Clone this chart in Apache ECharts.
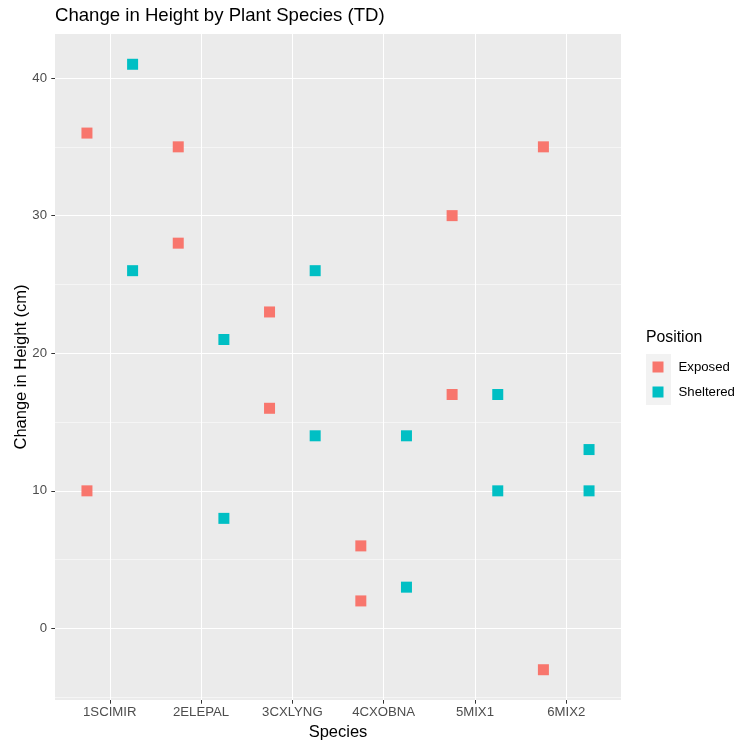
<!DOCTYPE html>
<html>
<head>
<meta charset="utf-8">
<script src="https://cdn.jsdelivr.net/npm/echarts@6/dist/echarts.min.js"></script>
<style>html,body{margin:0;padding:0;background:#fff}#c{width:739px;height:740px}</style>
</head>
<body>
<div id="c"></div>
<script>
const categories = ['1SCIMIR', '2ELEPAL', '3CXLYNG', '4CXOBNA', '5MIX1', '6MIX2'];
const exposedValues = [[36, 10], [35, 28], [23, 16], [6, 2], [30, 17], [35, -3]];
const shelteredValues = [[41, 26], [21, 8], [26, 14], [14, 3], [17, 10], [13, 10]];
const yMajorTicks = [0, 10, 20, 30, 40];
const yMinorTicks = [-5, 5, 15, 25, 35];
const seriesNames = ['Exposed', 'Sheltered'];
const dodge = [-0.25, 0.25];

function toPoints(vals, off) {
  const pts = [];
  vals.forEach((arr, i) => arr.forEach(v => pts.push([i + 1 + off, v])));
  return pts;
}
const xTicks = categories.map((c, i) => i + 1);
const FONT = '"Liberation Sans", Arial, sans-serif';
const chart = echarts.init(document.getElementById('c'), null, {renderer: 'canvas'});
const yMin = -5.2, yMax = 43.2;
chart.setOption({
  backgroundColor: '#ffffff',
  animation: false,
  title: [{
    text: 'Change in Height by Plant Species (TD)',
    left: 55, top: 6, padding: 0,
    textStyle: {fontFamily: FONT, fontSize: 18.6, fontWeight: 'normal', color: '#000'}
  }, {
    text: 'Position',
    left: 646, top: 330,
    padding: 0,
    textStyle: {fontFamily: FONT, fontSize: 15.8, fontWeight: 'normal', color: '#000'}
  }],
  graphic: [{
    type: 'rect', z: 0,
    shape: {x: 646, y: 354, width: 25, height: 51},
    style: {fill: '#f2f2f2'}
  }],
  legend: {
    orient: 'vertical',
    left: 652.5, top: 360, padding: 0,
    itemWidth: 11, itemHeight: 11, itemGap: 11,
    icon: 'rect',
    data: seriesNames,
    textStyle: {fontFamily: FONT, fontSize: 13.2, lineHeight: 14, color: '#000', padding: [0, 0, 0, 10]}
  },
  grid: {left: 55, top: 34, width: 566, height: 666, show: true, backgroundColor: '#ebebeb', borderWidth: 0,
         containLabel: false, outerBoundsMode: 'none'},
  xAxis: {
    type: 'value', min: 0.4, max: 6.6,
    name: 'Species', nameLocation: 'middle', nameGap: 23.5, nameMoveOverlap: false,
    nameTextStyle: {fontFamily: FONT, fontSize: 16.5, color: '#000'},
    axisLine: {show: false, onZero: false},
    axisTick: {show: true, length: 3.7, lineStyle: {color: '#333', width: 1}, customValues: xTicks},
    axisLabel: {
      customValues: xTicks, margin: 6,
      fontFamily: FONT, fontSize: 13.2, color: '#4d4d4d',
      formatter: v => categories[Math.round(v) - 1] || ''
    },
    splitLine: {show: true, lineStyle: {color: '#ffffff', width: 1.07}}
  },
  yAxis: [{
    type: 'value', min: yMin, max: yMax,
    name: 'Change in Height (cm)', nameLocation: 'middle', nameGap: 25, nameRotate: 90, nameMoveOverlap: false,
    nameTextStyle: {fontFamily: FONT, fontSize: 16.5, color: '#000'},
    axisLine: {show: false, onZero: false},
    axisTick: {show: true, length: 3.7, lineStyle: {color: '#333', width: 1}, customValues: yMajorTicks},
    axisLabel: {customValues: yMajorTicks, margin: 8, fontFamily: FONT, fontSize: 13.2, color: '#4d4d4d'},
    splitLine: {show: true, lineStyle: {color: '#ffffff', width: 1.07}},
    z: 1
  }, {
    type: 'value', min: yMin, max: yMax, position: 'left',
    axisLine: {show: false, onZero: false},
    axisTick: {show: false, customValues: yMinorTicks},
    axisLabel: {show: false, customValues: yMinorTicks},
    splitLine: {show: true, lineStyle: {color: '#ffffff', width: 0.53}},
    z: 0
  }],
  series: [{
    name: seriesNames[0], type: 'scatter', symbol: 'rect', symbolSize: 11,
    itemStyle: {color: '#F8766D', opacity: 1},
    data: toPoints(exposedValues, dodge[0])
  }, {
    name: seriesNames[1], type: 'scatter', symbol: 'rect', symbolSize: 11,
    itemStyle: {color: '#00BFC4', opacity: 1},
    data: toPoints(shelteredValues, dodge[1])
  }]
});
</script>
</body>
</html>
